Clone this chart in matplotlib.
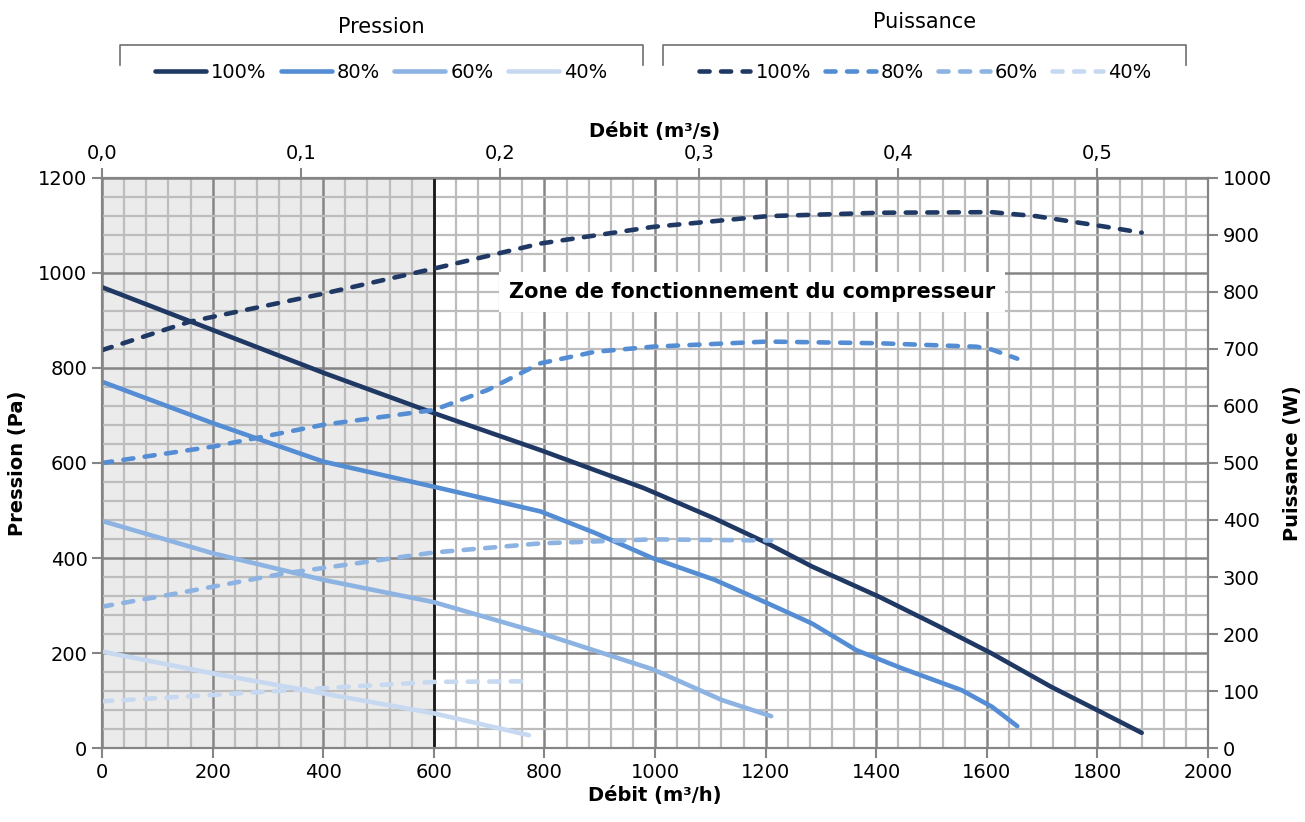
import numpy as np
import matplotlib
matplotlib.use("Agg")
import matplotlib.pyplot as plt
from matplotlib.lines import Line2D

plt.rcParams['font.family'] = ['DejaVu Sans']

# Pression (Pa) vs débit (m3/h)
p100_x = [0, 200, 400, 600, 793, 980, 1108, 1203, 1284, 1406, 1510, 1609, 1716, 1811, 1880]
p100_y = [970, 880, 790, 705, 627, 547, 483, 431, 382, 318, 258, 199, 129, 73, 32]
p80_x = [0, 200, 400, 600, 793, 891, 995, 1108, 1203, 1284, 1364, 1446, 1554, 1609, 1655]
p80_y = [771, 684, 603, 550, 498, 453, 400, 354, 305, 262, 206, 168, 122, 87, 46]
p60_x = [0, 200, 400, 600, 793, 995, 1121, 1210]
p60_y = [478, 410, 354, 307, 242, 166, 101, 67]
p40_x = [0, 200, 400, 600, 772]
p40_y = [203, 157, 115, 73, 27]

# Puissance (W)
w100_x = [0, 159, 400, 600, 793, 995, 1203, 1406, 1609, 1689, 1811, 1880]
w100_y = [698, 748, 797, 841, 885, 914, 933, 939, 940, 933, 915, 904]
w80_x = [0, 202, 400, 600, 697, 793, 891, 995, 1203, 1406, 1581, 1609, 1655]
w80_y = [500, 529, 567, 593, 628, 675, 695, 704, 713, 710, 704, 699, 683]
w60_x = [0, 134, 328, 504, 600, 793, 995, 1210]
w60_y = [248, 271, 306, 330, 343, 359, 366, 364]
w40_x = [0, 199, 400, 600, 772]
w40_y = [82, 93, 105, 116, 117]

labels = ['100%', '80%', '60%', '40%']
colors = ['#1F3864', '#548DD4', '#8DB3E2', '#C6D9F1']

fig = plt.figure(figsize=(13.05, 8.22), dpi=100)
ax = fig.add_axes([0.0782, 0.0900, 0.8475, 0.6935])
ax2 = ax.twinx()

# grille + zone grisée
ax.axvspan(0, 600, color='#EBEBEB', zorder=0)
ax.axvline(600, color='#1a1a1a', lw=2, zorder=1)
ax.set_axisbelow(True)
ax.set_xlim(0, 2000)
ax.set_ylim(0, 1200)
ax2.set_ylim(0, 1000)
ax.set_xticks(np.arange(0, 2001, 200))
ax.set_xticks(np.arange(0, 2001, 40), minor=True)
ax.set_yticks(np.arange(0, 1201, 200))
ax.set_yticks(np.arange(0, 1201, 40), minor=True)
ax2.set_yticks(np.arange(0, 1001, 100))
ax.grid(which='minor', color='#BDBDBD', lw=1.6)
ax.grid(which='major', color='#858585', lw=1.8)
ax.tick_params(which='minor', length=0)

pres = [(p100_x, p100_y), (p80_x, p80_y), (p60_x, p60_y), (p40_x, p40_y)]
puis = [(w100_x, w100_y), (w80_x, w80_y), (w60_x, w60_y), (w40_x, w40_y)]
h_p = []
h_w = []
for (x, y), c, lab in zip(pres, colors, labels):
    l, = ax.plot(x, y, color=c, lw=3.3, solid_capstyle='round', label=lab, zorder=3)
    h_p.append(l)
for (x, y), c, lab in zip(puis, colors, labels):
    l, = ax2.plot(x, y, color=c, lw=3.3, ls=(0, (2.2, 2.5)), dash_capstyle='round', label=lab)
    h_w.append(l)

ax.text(1176, 960, 'Zone de fonctionnement du compresseur', ha='center', va='center',
        fontsize=15, fontweight='bold', color='black', zorder=5,
        bbox=dict(facecolor='white', edgecolor='none', pad=7))

for a in (ax, ax2):
    for s in a.spines.values():
        s.set_color('#858585')
        s.set_linewidth(1.5)
    a.tick_params(which='major', colors='#858585', labelcolor='black', labelsize=14, length=7, width=1.5)

ax.set_ylabel('Pression (Pa)', fontsize=14, fontweight='bold', labelpad=8)
ax2.set_ylabel('Puissance (W)', fontsize=14, fontweight='bold', labelpad=8)
ax.set_xlabel('Débit (m³/h)', fontsize=14, fontweight='bold', labelpad=3)

sec = ax.secondary_xaxis('top', functions=(lambda v: v / 3600, lambda v: v * 3600))
sec.set_xticks(np.arange(0, 0.51, 0.1))
sec.set_xticklabels([('%.1f' % v).replace('.', ',') for v in np.arange(0, 0.51, 0.1)])
sec.tick_params(colors='#858585', labelcolor='black', labelsize=14, length=7, width=1.5)
sec.spines['top'].set_visible(False)
sec.set_xlabel('Débit (m³/s)', fontsize=14, fontweight='bold', labelpad=5)

# légendes
kw = dict(ncol=4, frameon=False, fontsize=14, handlelength=2.63, handletextpad=0.26,
          columnspacing=0.72, loc='center')
fig.legend(h_p, labels, bbox_to_anchor=(0.292, 0.912), **kw)
fig.legend(h_w, labels, bbox_to_anchor=(0.709, 0.912), **kw)

def bracket(x0, x1, title, ty):
    yb = 1 - 45 / 822
    ye = 1 - 65 / 822
    fig.add_artist(Line2D([x0, x0, x1, x1], [ye, yb, yb, ye], color='#707070', lw=1.2,
                          transform=fig.transFigure))
    fig.text((x0 + x1) / 2, ty, title, ha='center', va='center', fontsize=15)

bracket(120 / 1305, 643 / 1305, 'Pression', 1 - 27 / 822)
bracket(663 / 1305, 1186 / 1305, 'Puissance', 1 - 22 / 822)

fig.savefig('out.png', dpi=100)
